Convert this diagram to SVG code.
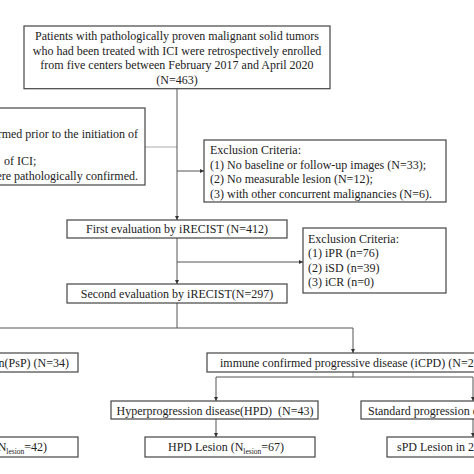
<svg xmlns="http://www.w3.org/2000/svg" width="474" height="474" viewBox="0 0 474 474">
<defs>
<style>
.box{fill:#fff;stroke:#444;stroke-width:1.2}
.t{font-family:"Liberation Serif","Times New Roman",serif;font-size:12px;fill:#222}
.c{text-anchor:middle}
.e{text-anchor:end}
.ln{fill:none;stroke:#555;stroke-width:1}
.lg{fill:none;stroke:#aaa;stroke-width:1}
.sub{font-size:7.5px}
</style>
<marker id="ah" viewBox="0 0 6 6" refX="6" refY="3" markerWidth="4" markerHeight="4" orient="auto" markerUnits="userSpaceOnUse">
<path d="M0,0 L6,3 L0,6 Z" fill="#333"/>
</marker>
</defs>
<rect width="474" height="474" fill="#fff"/>
<g id="connectors">
<path class="lg" d="M145,147 H177"/>
<path class="ln" d="M177,89 V220" marker-end="url(#ah)"/>
<path class="ln" d="M177,171 H204" marker-end="url(#ah)"/>
<path class="ln" d="M177,238 V284" marker-end="url(#ah)"/>
<path class="ln" d="M177,262 H303" marker-end="url(#ah)"/>
<path class="ln" d="M177,303 V328 M0,328 H353"/>
<path class="ln" d="M353,328 V353" marker-end="url(#ah)"/>
<path class="ln" d="M353,372 V377 M216,377 H473"/>
<path class="ln" d="M216,377 V401" marker-end="url(#ah)"/>
<path class="ln" d="M473,377 V401" marker-end="url(#ah)"/>
<path class="ln" d="M216,419 V437" marker-end="url(#ah)"/>
<path class="ln" d="M473,419 V437" marker-end="url(#ah)"/>
</g>
<g id="n-top">
<rect class="box" x="24" y="26" width="306" height="62.7"/>
<text class="t c" x="177" y="40">Patients with pathologically proven malignant solid tumors</text>
<text class="t c" x="177" y="54.5">who had been treated with ICI were retrospectively enrolled</text>
<text class="t c" x="177" y="69">from five centers between February 2017 and April 2020</text>
<text class="t c" x="177" y="83.5">(N=463)</text>
</g>
<g id="n-left-excl">
<rect class="box" x="-5" y="108" width="150" height="77"/>
<text class="t e" x="138" y="138">rmed prior to the initiation of</text>
<text class="t" x="4" y="165">of ICI;</text>
<text class="t e" x="138" y="180">ere pathologically confirmed.</text>
</g>
<g id="n-excl1">
<rect class="box" x="204" y="140" width="242" height="62"/>
<text class="t" x="210" y="154">Exclusion Criteria:</text>
<text class="t" x="210" y="169">(1) No baseline or follow-up images (N=33);</text>
<text class="t" x="210" y="183">(2) No measurable lesion (N=12);</text>
<text class="t" x="210" y="197.5">(3) with other concurrent malignancies (N=6).</text>
</g>
<g id="n-first">
<rect class="box" x="67" y="220" width="220" height="18"/>
<text class="t c" x="177" y="233">First evaluation by iRECIST (N=412)</text>
</g>
<g id="n-excl2">
<rect class="box" x="303" y="228" width="143" height="65"/>
<text class="t" x="308" y="243">Exclusion Criteria:</text>
<text class="t" x="308" y="257">(1) iPR (n=76)</text>
<text class="t" x="308" y="271.5">(2) iSD (n=39)</text>
<text class="t" x="308" y="286">(3) iCR (n=0)</text>
</g>
<g id="n-second">
<rect class="box" x="67" y="284" width="220" height="19"/>
<text class="t c" x="177" y="298">Second evaluation by iRECIST(N=297)</text>
</g>
<g id="n-psp">
<rect class="box" x="-5" y="353" width="83" height="19"/>
<text class="t e" x="69" y="367">n(PsP) (N=34)</text>
</g>
<g id="n-icpd">
<rect class="box" x="207" y="353" width="275" height="19"/>
<text class="t" x="220" y="367">immune confirmed progressive disease (iCPD) (N=26</text>
</g>
<g id="n-hpd">
<rect class="box" x="111" y="401" width="207" height="18"/>
<text class="t c" x="215" y="414.5" xml:space="preserve">Hyperprogression disease(HPD)  (N=43)</text>
</g>
<g id="n-spd">
<rect class="box" x="361" y="401" width="120" height="18"/>
<text class="t" x="368" y="414.5">Standard progression d</text>
</g>
<g id="n-psp-lesion">
<rect class="box" x="-5" y="437" width="83" height="20"/>
<text class="t e" x="47" y="451">N<tspan class="sub" dy="3">lesion</tspan><tspan dy="-3">=42)</tspan></text>
</g>
<g id="n-hpd-lesion">
<rect class="box" x="145" y="437" width="170" height="20"/>
<text class="t c" x="226" y="451">HPD Lesion (N<tspan class="sub" dy="3">lesion</tspan><tspan dy="-3">=67)</tspan></text>
</g>
<g id="n-spd-lesion">
<rect class="box" x="387" y="437" width="94" height="20"/>
<text class="t" x="397" y="451">sPD Lesion in 2</text>
</g>
</svg>
